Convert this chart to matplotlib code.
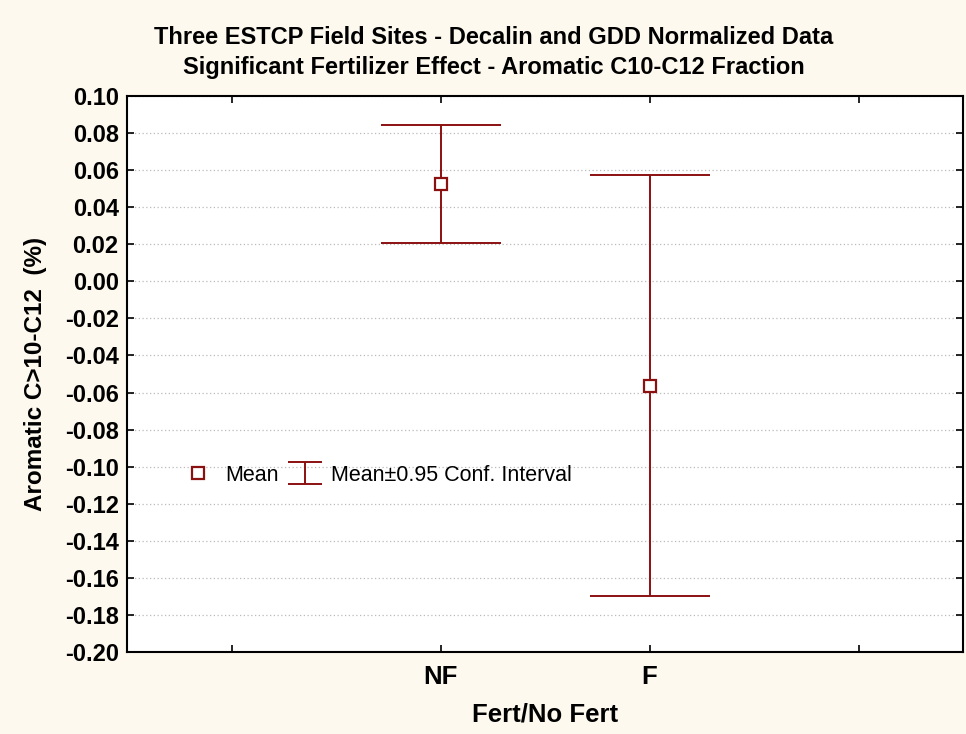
import matplotlib
matplotlib.use("Agg")
import matplotlib.pyplot as plt
import matplotlib.font_manager as fm
import numpy as np
from matplotlib.lines import Line2D

plt.rcParams["font.family"] = ["Liberation Sans", "DejaVu Sans"]

# data
groups = ["NF", "F"]
group_pos = [2, 3]
means = [0.0525, -0.0562]
ci_low = [0.0205, -0.1698]
ci_high = [0.0845, 0.0574]

yticks = np.round(np.arange(-0.20, 0.1001, 0.02), 2)
red = "#8B1010"

# the regular-width bold face (fontconfig tends to hand out the Narrow one)
bold_path = None
for f in fm.fontManager.ttflist:
    if f.name == "Liberation Sans" and f.weight in (700, "bold") \
            and "narrow" not in f.fname.lower() and "italic" not in f.style:
        bold_path = f.fname
        break


def bold(size):
    if bold_path:
        return fm.FontProperties(fname=bold_path, size=size)
    return fm.FontProperties(family="DejaVu Sans", weight="bold", size=size)


fig = plt.figure(figsize=(9.66, 7.34), dpi=100, facecolor="#FEF9EE")
ax = fig.add_axes([0.1315, 0.1117, 0.8655, 0.7575])
ax.set_facecolor("white")

means = np.array(means)
yerr = [means - np.array(ci_low), np.array(ci_high) - means]
ax.errorbar(group_pos, means, yerr=yerr, fmt="none", ecolor=red,
            elinewidth=1.4, capsize=43, capthick=1.4, zorder=3)
ax.plot(group_pos, means, ls="none", marker="s", ms=8.5, mfc="white",
        mec=red, mew=1.6, zorder=4)

ax.set_xlim(0.5, 4.5)
ax.set_ylim(-0.20, 0.10)
ax.set_xticks([1, 2, 3, 4])
ax.set_xticklabels(["", "NF", "F", ""], fontproperties=bold(18.5))
ax.set_yticks(yticks)
ax.set_yticklabels([f"{v:.2f}".replace("-0.00", "0.00") for v in yticks],
                   fontproperties=bold(17))
ax.yaxis.grid(True, linestyle=(0, (1, 2)), color="#BBBBBB", linewidth=0.9)
ax.set_axisbelow(True)
ax.tick_params(direction="in", length=5, width=1.2, top=True, right=True, pad=6)
ax.tick_params(axis="x", pad=9)
for s in ax.spines.values():
    s.set_linewidth(1.5)

ax.set_xlabel("Fert/No Fert", fontproperties=bold(18.5), labelpad=10)
ax.set_ylabel("Aromatic C>10-C12  (%)", fontproperties=bold(17.5), labelpad=13)
fig.suptitle("Three ESTCP Field Sites - Decalin and GDD Normalized Data\n"
             "Significant Fertilizer Effect - Aromatic C10-C12 Fraction",
             fontproperties=bold(17), x=0.511, y=0.964, va="top",
             linespacing=1.35)

# legend proxies (no data, only the symbols)
mean_handle = Line2D([], [], ls="none", marker="s", ms=8, mfc="white",
                     mec=red, mew=1.6)
ci_handle = ax.errorbar([np.nan], [np.nan], yerr=[[np.nan], [np.nan]],
                        fmt="none", ecolor=red, elinewidth=1.4,
                        capsize=12, capthick=1.4)
ax.legend([mean_handle, ci_handle], ["Mean", "Mean\u00b10.95 Conf. Interval"],
          loc="center left", bbox_to_anchor=(0.0526, 0.318), frameon=False,
          fontsize=15.5, handlelength=1.55, handletextpad=0.45, borderpad=0,
          columnspacing=0.45, ncol=2)

fig.savefig("out.png", dpi=100, facecolor=fig.get_facecolor())
